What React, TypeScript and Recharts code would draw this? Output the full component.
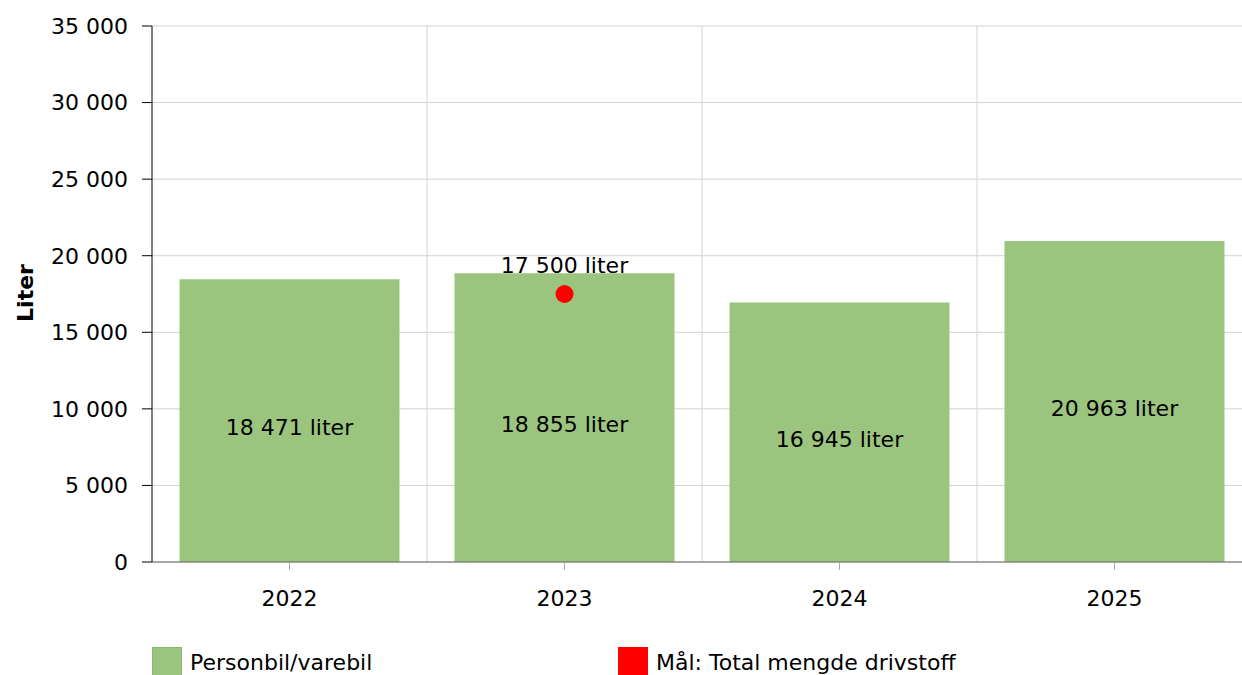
import {
  ComposedChart,
  Bar,
  Line,
  XAxis,
  YAxis,
  CartesianGrid,
  LabelList,
} from 'recharts';

const years = ['2022', '2023', '2024', '2025'];
const personbil = [18471, 18855, 16945, 20963];
const goal: (number | null)[] = [null, 17500, null, null];
const yTicks = [0, 5000, 10000, 15000, 20000, 25000, 30000, 35000];

const FONT = '"DejaVu Sans", Verdana, sans-serif';
const FS = 22;
const GREEN = '#9bc57f';
const RED = '#ff0000';

const chartData = years.map((year, i) => ({
  year,
  personbil: personbil[i],
  goal: goal[i],
}));

const fmt = (v: number) => String(v).replace(/\B(?=(\d{3})+(?!\d))/g, ' ');

function BarValueLabel(props: any) {
  const { x, y, width, height, value } = props;
  if (value == null) return null;
  return (
    <text
      x={x + width / 2}
      y={y + height / 2 + 7}
      textAnchor="middle"
      dominantBaseline="central"
      fontSize={FS}
      fontFamily={FONT}
      fill="#000"
    >
      {fmt(value)} liter
    </text>
  );
}

function GoalLabel(props: any) {
  const { x, y, value } = props;
  if (value == null) return null;
  return (
    <text
      x={x}
      y={y - 29}
      textAnchor="middle"
      dominantBaseline="central"
      fontSize={FS}
      fontFamily={FONT}
      fill="#000"
    >
      {fmt(value)} liter
    </text>
  );
}

function AxisTitle(props: any) {
  const { viewBox } = props;
  const cx = viewBox.x + 25;
  const cy = viewBox.y + viewBox.height / 2 - 1;
  return (
    <text
      x={cx}
      y={cy}
      transform={`rotate(-90, ${cx}, ${cy})`}
      textAnchor="middle"
      dominantBaseline="central"
      fontSize={FS}
      fontWeight="bold"
      fontFamily={FONT}
      fill="#000"
    >
      Liter
    </text>
  );
}

export default function App() {
  return (
    <div
      style={{
        position: 'absolute',
        left: 0,
        top: 0,
        width: 1242,
        height: 675,
        overflow: 'hidden',
        background: '#fff',
        fontFamily: FONT,
      }}
    >
      <ComposedChart
        width={1252}
        height={675}
        data={chartData}
        margin={{ top: 26, right: 0, left: 0, bottom: 53 }}
        barCategoryGap="10%"
      >
        <CartesianGrid
          stroke="#d3d3d3"
          verticalCoordinatesGenerator={({ offset }: any) =>
            [1, 2, 3].map((i) => offset.left + (i * offset.width) / years.length)
          }
        />
        <XAxis
          dataKey="year"
          height={60}
          axisLine={{ stroke: '#666' }}
          tickLine={{ stroke: '#aaa' }}
          tickSize={8}
          tickMargin={20}
          tick={{ fontSize: FS, fill: '#000', fontFamily: FONT }}
        />
        <YAxis
          width={152}
          domain={[0, 35000]}
          ticks={yTicks}
          interval={0}
          tickFormatter={fmt}
          axisLine={{ stroke: '#000' }}
          tickLine={{ stroke: '#000' }}
          tickSize={10}
          tickMargin={14}
          tick={{ fontSize: FS, fill: '#000', fontFamily: FONT }}
          label={<AxisTitle />}
        />
        <Bar dataKey="personbil" fill={GREEN} isAnimationActive={false}>
          <LabelList dataKey="personbil" content={<BarValueLabel />} />
        </Bar>
        <Line
          dataKey="goal"
          stroke="none"
          strokeWidth={0}
          connectNulls={false}
          dot={{ r: 9, fill: RED, stroke: 'none' }}
          activeDot={false}
          isAnimationActive={false}
        >
          <LabelList dataKey="goal" content={<GoalLabel />} />
        </Line>
      </ComposedChart>
      <div
        style={{
          position: 'absolute',
          left: 152,
          top: 647,
          display: 'flex',
          fontSize: FS,
          color: '#000',
        }}
      >
        <div style={{ width: 466, display: 'flex', alignItems: 'center' }}>
          <span
            style={{
              width: 28,
              height: 28,
              background: GREEN,
              border: '1px solid #8ab86c',
              marginRight: 8,
              display: 'inline-block',
            }}
          />
          Personbil/varebil
        </div>
        <div style={{ display: 'flex', alignItems: 'center' }}>
          <span
            style={{
              width: 30,
              height: 30,
              background: RED,
              marginRight: 8,
              display: 'inline-block',
            }}
          />
          Mål: Total mengde drivstoff
        </div>
      </div>
    </div>
  );
}
